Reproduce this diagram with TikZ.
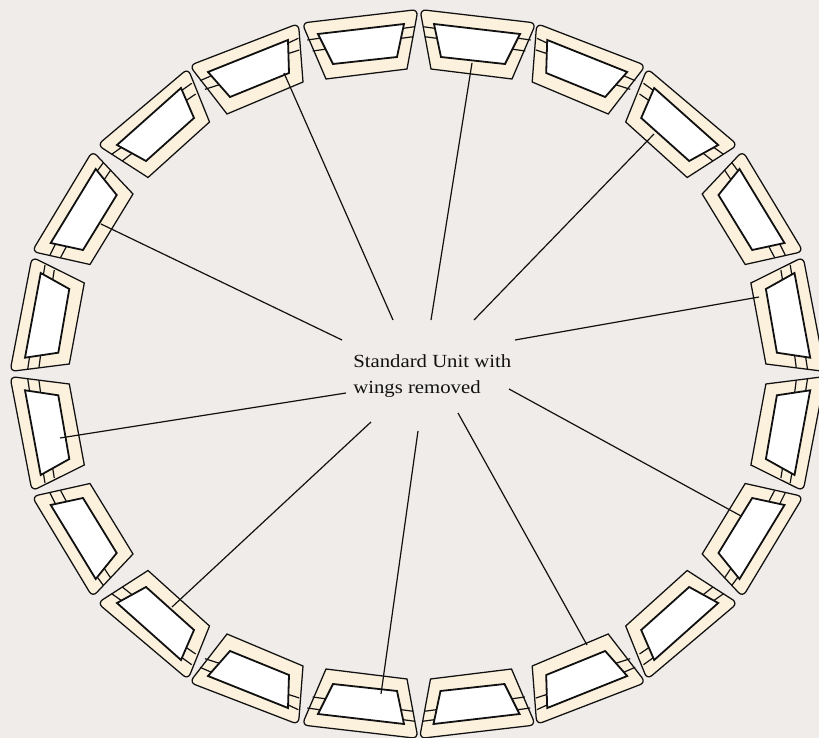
\documentclass[tikz,border=0pt]{standalone}
\usepackage{fontspec}
\setmainfont[FakeStretch=1.12]{Liberation Serif}
\definecolor{bgc}{HTML}{EFECE9}
\definecolor{wingc}{HTML}{FBF1DD}
\definecolor{inkc}{HTML}{111111}
\tikzset{
  outerbody/.style={draw=inkc,fill=wingc,line width=.95pt,line join=miter},
  innerbody/.style={draw=inkc,fill=white,line width=1.35pt,line join=miter},
  wingline/.style={draw=inkc,line width=.9pt},
  leader/.style={draw=inkc,line width=.9pt},
  caption/.style={inner sep=0pt,align=left,anchor=west,text=inkc,font=\fontsize{13.9}{19.5}\selectfont}
}
% one unit: bottom-left, top-left, top-right, bottom-right (outer), then inner, then wing lines
\newcommand{\oneunit}[6]{%
  \draw[outerbody] #4 -- #1 [rounded corners=4.5pt] -- #2 -- #3 [sharp corners] -- #4 -- cycle;
  \draw[wingline] #6;
  \draw[innerbody] #5 -- cycle;
}
\newcommand{\centreunit}{%
  \oneunit{(326,79)}{(302,23)}{(418,9.5)}{(407,69)}{(318,34) -- (404,24) -- (397,57) -- (333,64)}{(307.3,40) -- (322,37.9) (312.7,51) -- (327,49) (401,28.6) -- (415,26.7) (399,38.6) -- (413.3,36.7)}
}
\newcommand{\sideunits}{%
  \oneunit{(227,114)}{(189.5,65.5)}{(298.5,23.5)}{(303,82)}{(208,72) -- (288,40) -- (289,73) -- (230,97)}{(200,80.7) -- (212,75.5) (205,89.3) -- (220,84.5) (287,43.6) -- (298.3,38.3) (287,54) -- (299.3,50)}
  \oneunit{(148,177.5)}{(97.5,145)}{(188,68.5)}{(209.5,122)}{(117,145) -- (181,88) -- (194,118) -- (146,161)}{(111.7,154.3) -- (122,147) (122.3,161) -- (133,152.5) (181,91) -- (191.7,83.3) (184,102) -- (195.7,94)}
  \oneunit{(90,264.5)}{(32,251.5)}{(92.5,151)}{(133,194)}{(95.7,169) -- (116.7,195) -- (83,250) -- (50.7,243)}{(103.3,162.7) -- (95,174) (110.7,170) -- (102,183) (57,241) -- (50,255) (68,243.5) -- (60.7,257.3)}
  \oneunit{(69.3,364)}{(10,371.5)}{(32,257)}{(84.3,283)}{(40.7,273) -- (69.3,289) -- (58.3,352.7) -- (25,357.7)}{(45,265) -- (43,277) (54.3,270) -- (52,284) (30,354) -- (27.7,369.3) (41,352) -- (39,367.3)}
}
\begin{document}
\begin{tikzpicture}[x=.75pt,y=-.75pt]
\useasboundingbox (0,0) rectangle (819,738);
\clip (0,0) rectangle (819,738);
\fill[bgc] (0,0) rectangle (819,738);
\begin{scope}\centreunit\sideunits\end{scope}
\begin{scope}[cm={1,0,0,-1,(0,748)}]\centreunit\sideunits\end{scope}
\begin{scope}[cm={-1,0,0,1,(838,0)}]\centreunit\end{scope}
\begin{scope}[cm={-1,0,0,-1,(837.5,748)}]\centreunit\end{scope}
\begin{scope}[cm={-1,0,0,1,(835.2,0)}]\sideunits\end{scope}
\begin{scope}[cm={-1,0,0,-1,(835.2,748)}]\sideunits\end{scope}
\node[caption] (lab) at (353,376) {Standard Unit with\\wings removed};
\coordinate (a1) at (393,320); \coordinate (b1) at (284,73);
\coordinate (a2) at (431,320); \coordinate (b2) at (472,63);
\coordinate (a3) at (474,320); \coordinate (b3) at (654,134);
\coordinate (a4) at (515,340); \coordinate (b4) at (759,297);
\coordinate (a5) at (509,389); \coordinate (b5) at (741,516);
\coordinate (a6) at (458,413); \coordinate (b6) at (587,645);
\coordinate (a7) at (418,431); \coordinate (b7) at (381,694);
\coordinate (a8) at (371,422); \coordinate (b8) at (172,607);
\coordinate (a9) at (346,393); \coordinate (b9) at (60,438);
\coordinate (a10) at (342,340); \coordinate (b10) at (101,224);
\foreach \i in {1,...,10} \draw[leader] (a\i) -- (b\i);
\end{tikzpicture}
\end{document}
